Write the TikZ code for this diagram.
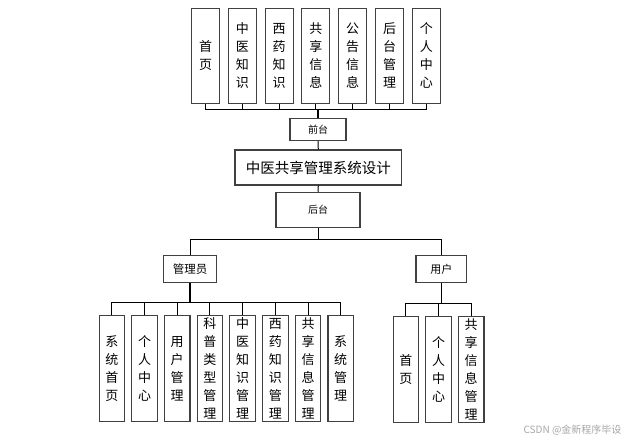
\documentclass[tikz,border=0pt]{standalone}
\usepackage{fontspec}
\setmainfont{Noto Sans CJK SC}
\tikzset{
  box/.style={draw=black!75, line width=1.1pt, fill=white, inner sep=0pt, align=center},
  leaf/.style={box, minimum width=28pt, minimum height=95pt, font=\fontsize{13}{18}\selectfont},
  subleaf/.style={box, minimum width=25.5pt, minimum height=106pt, font=\fontsize{13}{18}\selectfont},
  link/.style={draw=black, line width=1pt}
}
\begin{document}
\begin{tikzpicture}[x=1pt, y=-1pt]
  \useasboundingbox (0,0) rectangle (630,441);

  % Sistema
  \node[box, minimum width=166.7pt, minimum height=35pt, font=\fontsize{14.5}{16}\selectfont] (main) at (318.3,167.5) {中医共享管理系统设计};
  \node[box, minimum width=56pt, minimum height=22.4pt, font=\fontsize{10}{12}\selectfont] (front) at (318,129.5) {前台};
  \node[box, minimum width=84pt, minimum height=35.4pt, font=\fontsize{10}{12}\selectfont] (back) at (318,210) {后台};
  \node[box, minimum width=53.4pt, minimum height=26.6pt, font=\fontsize{11.5}{13}\selectfont] (admin) at (190,269) {管理员};
  \node[box, minimum width=50.7pt, minimum height=26.6pt, font=\fontsize{11}{13}\selectfont] (user) at (441.3,269) {用户};

  % Front modules
  \foreach \i/\txt in {0/首\\页, 1/中\\医\\知\\识, 2/西\\药\\知\\识, 3/共\\享\\信\\息,
                       4/公\\告\\信\\息, 5/后\\台\\管\\理, 6/个\\人\\中\\心} {
    \node[leaf] (f\i) at (205.5+36.8*\i,55.7) {\txt};
  }

  % Admin modules
  \foreach \i/\txt in {0/系\\统\\首\\页, 1/个\\人\\中\\心, 2/用\\户\\管\\理, 3/科\\普\\类\\型\\管\\理,
                       4/中\\医\\知\\识\\管\\理, 5/西\\药\\知\\识\\管\\理, 6/共\\享\\信\\息\\管\\理, 7/系\\统\\管\\理} {
    \node[subleaf] (a\i) at (111.8+32.7*\i,368.7) {\txt};
  }

  % User modules
  \foreach \i/\txt in {0/首\\页, 1/个\\人\\中\\心, 2/共\\享\\信\\息\\管\\理} {
    \node[subleaf] (u\i) at (405.8+32.7*\i,369.7) {\txt};
  }

  % Connectors
  \coordinate (fbus) at (318,110);
  \coordinate (split) at (318,240);
  \coordinate (abus) at (190,302.3);
  \coordinate (ubus) at (441.3,303.3);
  \foreach \i in {0,...,6} {
    \draw[link] (f\i.south) |- (fbus);
  }
  \draw[link, line width=2pt] (fbus) -- (front.north);
  \draw[link] (front.south) -- (main.north);
  \draw[link] (main.south) -- (back.north);
  \draw[link] (back.south) -- (split);
  \draw[link] (admin.north) |- (split);
  \draw[link] (user.north) |- (split);
  \foreach \i in {0,...,7} {
    \draw[link] (a\i.north) |- (abus);
  }
  \draw[link, line width=2pt] (admin.south) -- (abus);
  \foreach \i in {0,...,2} {
    \draw[link] (u\i.north) |- (ubus);
  }
  \draw[link, line width=1.5pt] (user.south) -- (ubus);

  % Watermark
  \node[text=black!35, font=\fontsize{10}{12}\selectfont, anchor=east] (mark) at (625,430) {CSDN @金新程序毕设};
\end{tikzpicture}
\end{document}
